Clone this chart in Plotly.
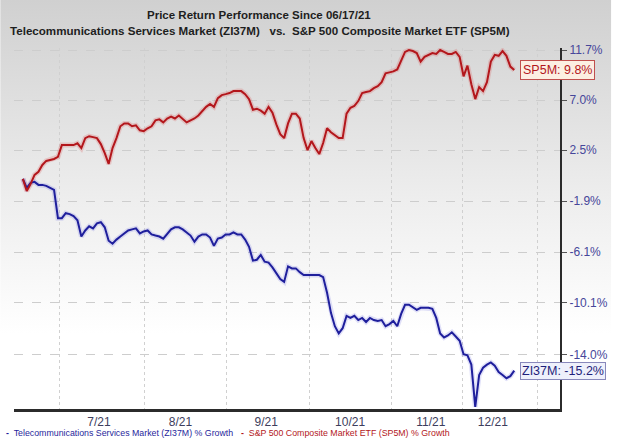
import math
import base64
import plotly.graph_objects as go

# ---------------- data ----------------
title_line1 = "Price Return Performance Since 06/17/21"
title_line2 = "Telecommunications Services Market (ZI37M)   vs.  S&P 500 Composite Market ETF (SP5M)"
series_names = ["Telecommunications Services Market (ZI37M) % Growth",
                "S&P 500 Composite Market ETF (SP5M) % Growth"]
end_labels = ["ZI37M: -15.2%", "SP5M: 9.8%"]

# % growth per trading day since 06/17/21
sp5m = [0.0, -1.04, -0.43, 0.34, 0.6, 1.2, 1.55, 1.64, 1.72, 1.9,
        2.94, 2.94, 2.94, 2.94, 3.1, 2.68, 3.56, 3.73, 3.65, 3.56,
        3.03, 2.24, 1.29, 2.68, 3.56, 4.62, 4.88, 4.88, 4.62, 4.7,
        4.26, 4.18, 4.44, 4.62, 5.15, 5.24, 4.97, 5.32, 5.5, 5.32,
        5.59, 5.24, 4.97, 5.15, 5.32, 5.59, 6.03, 6.38, 6.65, 6.38,
        7.18, 7.46, 7.55, 7.65, 7.83, 7.83, 7.83, 7.55, 7.09, 6.12,
        6.21, 6.03, 5.76, 6.38, 5.85, 4.79, 3.91, 3.56, 4.88, 5.76,
        5.76, 5.32, 3.56, 2.5, 3.3, 2.68, 2.15, 3.12, 4.44, 4.09,
        3.82, 3.56, 3.56, 5.76, 6.3, 6.47, 6.91, 7.65, 7.74, 7.83,
        8.1, 8.29, 8.66, 9.49, 9.58, 9.67, 9.86, 10.78, 11.52, 11.7,
        11.61, 11.42, 10.6, 11.05, 11.24, 11.42, 11.33, 11.7, 11.52, 11.33,
        11.33, 11.52, 11.05, 9.21, 10.22, 8.47, 7.09, 8.2, 7.83, 8.66,
        10.6, 11.24, 11.15, 11.61, 11.15, 10.13, 9.8]

zi37m = [0.0, -0.78, -0.35, -0.26, -0.52, -0.52, -0.6, -0.78, -0.95, -3.33,
         -3.33, -2.91, -2.99, -3.16, -3.5, -4.84, -4.34, -4.0, -4.17, -3.75,
         -3.66, -4.08, -5.18, -5.43, -5.09, -4.84, -4.59, -4.34, -4.25, -4.17,
         -4.59, -4.42, -4.34, -4.67, -4.76, -4.84, -5.01, -4.67, -4.25, -4.08,
         -4.08, -4.25, -4.5, -4.76, -5.26, -4.84, -4.67, -4.67, -4.92, -5.6,
         -5.01, -4.92, -4.67, -4.67, -4.5, -4.67, -4.67, -5.09, -5.68, -6.79,
         -6.72, -6.33, -6.87, -6.95, -7.33, -7.79, -8.25, -8.48, -7.25, -7.41,
         -7.41, -7.71, -7.94, -7.94, -7.94, -7.94, -7.94, -8.1, -9.33, -10.88,
         -11.9, -12.44, -12.05, -11.11, -11.27, -11.11, -11.43, -11.27, -11.58, -11.27,
         -11.43, -11.5, -11.43, -11.9, -11.74, -11.5, -11.9, -10.96, -10.26, -10.26,
         -10.49, -10.65, -10.49, -10.49, -10.49, -10.57, -11.27, -12.44, -12.75, -12.6,
         -12.36, -12.67, -12.99, -14.0, -14.08, -14.76, -17.8, -15.52, -14.99, -14.76,
         -14.6, -14.84, -15.3, -15.52, -15.75, -15.6, -15.2]

y_tick_values = [11.7, 7.0, 2.5, -1.9, -6.1, -10.1, -14.0]
x_labels = ["7/21", "8/21", "9/21", "10/21", "11/21", "12/21"]
x_label_pos = [19.5, 40.4, 62.4, 83.9, 104.6, 120.5]      # trading-day index
x_grid_pos = [9.35, 31.1, 52.1, 73.5, 94.5, 112.7, 131.9]  # trading-day index

# ---------------- styling ----------------
W, H = 620, 445
ML, MR, MT, MB = 14, 52, 48, 36
PW, PH = W - ML - MR, H - MT - MB
BLUE = "#1f1f9c"
RED = "#b3171c"
FONT = "Liberation Sans, Arial, sans-serif"


def growth(vals):
    return [1 + v / 100.0 for v in vals]


def px_x(px):
    return (px - ML) / PW


def px_y(py):
    return 1 - (py - MT) / PH


days_sp = list(range(len(sp5m)))
days_zi = list(range(len(zi37m)))

fig = go.Figure()
# soft halos under the lines
fig.add_trace(go.Scatter(x=days_sp, y=growth(sp5m), mode="lines",
                         line=dict(color="rgba(220,90,90,0.25)", width=5),
                         hoverinfo="skip", showlegend=False))
fig.add_trace(go.Scatter(x=days_zi, y=growth(zi37m), mode="lines",
                         line=dict(color="rgba(90,90,220,0.18)", width=5),
                         hoverinfo="skip", showlegend=False))
fig.add_trace(go.Scatter(x=days_zi, y=growth(zi37m), mode="lines", name=series_names[0],
                         line=dict(color=BLUE, width=2), showlegend=False))
fig.add_trace(go.Scatter(x=days_sp, y=growth(sp5m), mode="lines", name=series_names[1],
                         line=dict(color=RED, width=2), showlegend=False))

# background gradient
svg = ('<svg xmlns="http://www.w3.org/2000/svg" width="620" height="445" preserveAspectRatio="none">'
       '<defs><linearGradient id="g" x1="0" y1="0" x2="0" y2="1">'
       '<stop offset="0" stop-color="#d0d0d0"/><stop offset="0.45" stop-color="#eeeeee"/>'
       '<stop offset="0.75" stop-color="#ffffff"/></linearGradient></defs>'
       '<rect width="620" height="445" fill="url(#g)"/></svg>')
src = "data:image/svg+xml;base64," + base64.b64encode(svg.encode()).decode()

x_lo = -2.27
x_hi = 137.73
y_lo = math.log10(0.8205)
y_hi = math.log10(1.1190)

annotations = [
    dict(text="<b>" + title_line1 + "</b>", xref="paper", yref="paper",
         x=px_x(263), y=px_y(15), showarrow=False, xanchor="center", yanchor="middle",
         font=dict(family=FONT, size=11.5, color="#1e1e1e")),
    dict(text="<b>" + title_line2 + "</b>", xref="paper", yref="paper",
         x=px_x(264), y=px_y(30), showarrow=False, xanchor="center", yanchor="middle",
         font=dict(family=FONT, size=11.6, color="#1e1e1e")),
    # end labels
    dict(text=end_labels[1], x=len(sp5m) - 1, y=math.log10(1 + sp5m[-1] / 100), xref="x", yref="y",
         showarrow=False, xanchor="left", yanchor="middle", xshift=6,
         bgcolor="#fcefe2", bordercolor="#c0504d", borderwidth=1, borderpad=2,
         font=dict(family=FONT, size=12.5, color="#b3171c")),
    dict(text=end_labels[0], x=len(zi37m) - 1, y=math.log10(1 + zi37m[-1] / 100), xref="x", yref="y",
         showarrow=False, xanchor="left", yanchor="middle", xshift=6,
         bgcolor="#eef0fb", bordercolor="#8888bb", borderwidth=1, borderpad=1,
         font=dict(family=FONT, size=12.5, color="#1f1f7a")),
    # legend
    dict(text="<b>-</b>  " + series_names[0], xref="paper", yref="paper", x=px_x(4), y=px_y(433),
         showarrow=False, xanchor="left", yanchor="middle",
         font=dict(family=FONT, size=8.8, color=BLUE)),
    dict(text="<b>-</b>  " + series_names[1], xref="paper", yref="paper", x=px_x(242), y=px_y(433),
         showarrow=False, xanchor="left", yanchor="middle",
         font=dict(family=FONT, size=8.8, color=RED)),
]

fig.update_layout(
    width=W, height=H,
    margin=dict(l=ML, r=MR, t=MT, b=MB),
    paper_bgcolor="white",
    plot_bgcolor="rgba(0,0,0,0)",
    images=[dict(source=src, xref="paper", yref="paper", x=-ML / PW, y=1 + MT / PH,
                 sizex=W / PW, sizey=H / PH, sizing="stretch", layer="below",
                 xanchor="left", yanchor="top")],
    showlegend=False,
    annotations=annotations,
    xaxis=dict(range=[x_lo, x_hi], tickvals=x_label_pos, ticktext=x_labels,
               showgrid=False, zeroline=False, ticks="",
               showline=True, linecolor="#2b2b2b", linewidth=3,
               tickfont=dict(family=FONT, size=12, color="#3d3d5c"),
               minor=dict(tickvals=x_grid_pos, showgrid=True, gridcolor="#d0d0d0",
                          griddash="dot", gridwidth=1, ticks="")),
    yaxis=dict(type="log", side="right", range=[y_lo, y_hi],
               tickvals=growth(y_tick_values),
               ticktext=["%.1f%%" % v for v in y_tick_values],
               showgrid=True, gridcolor="#cdcdcd", griddash="dash", gridwidth=1,
               zeroline=False, showline=True, linecolor="#2b2b2b", linewidth=2,
               ticks="outside", ticklen=5, tickcolor="#555555", tickwidth=1,
               tickfont=dict(family=FONT, size=12, color="#46469a")),
)

fig.write_html("out.html", config={"displayModeBar": False},
               post_script="document.body.style.margin='0';")
